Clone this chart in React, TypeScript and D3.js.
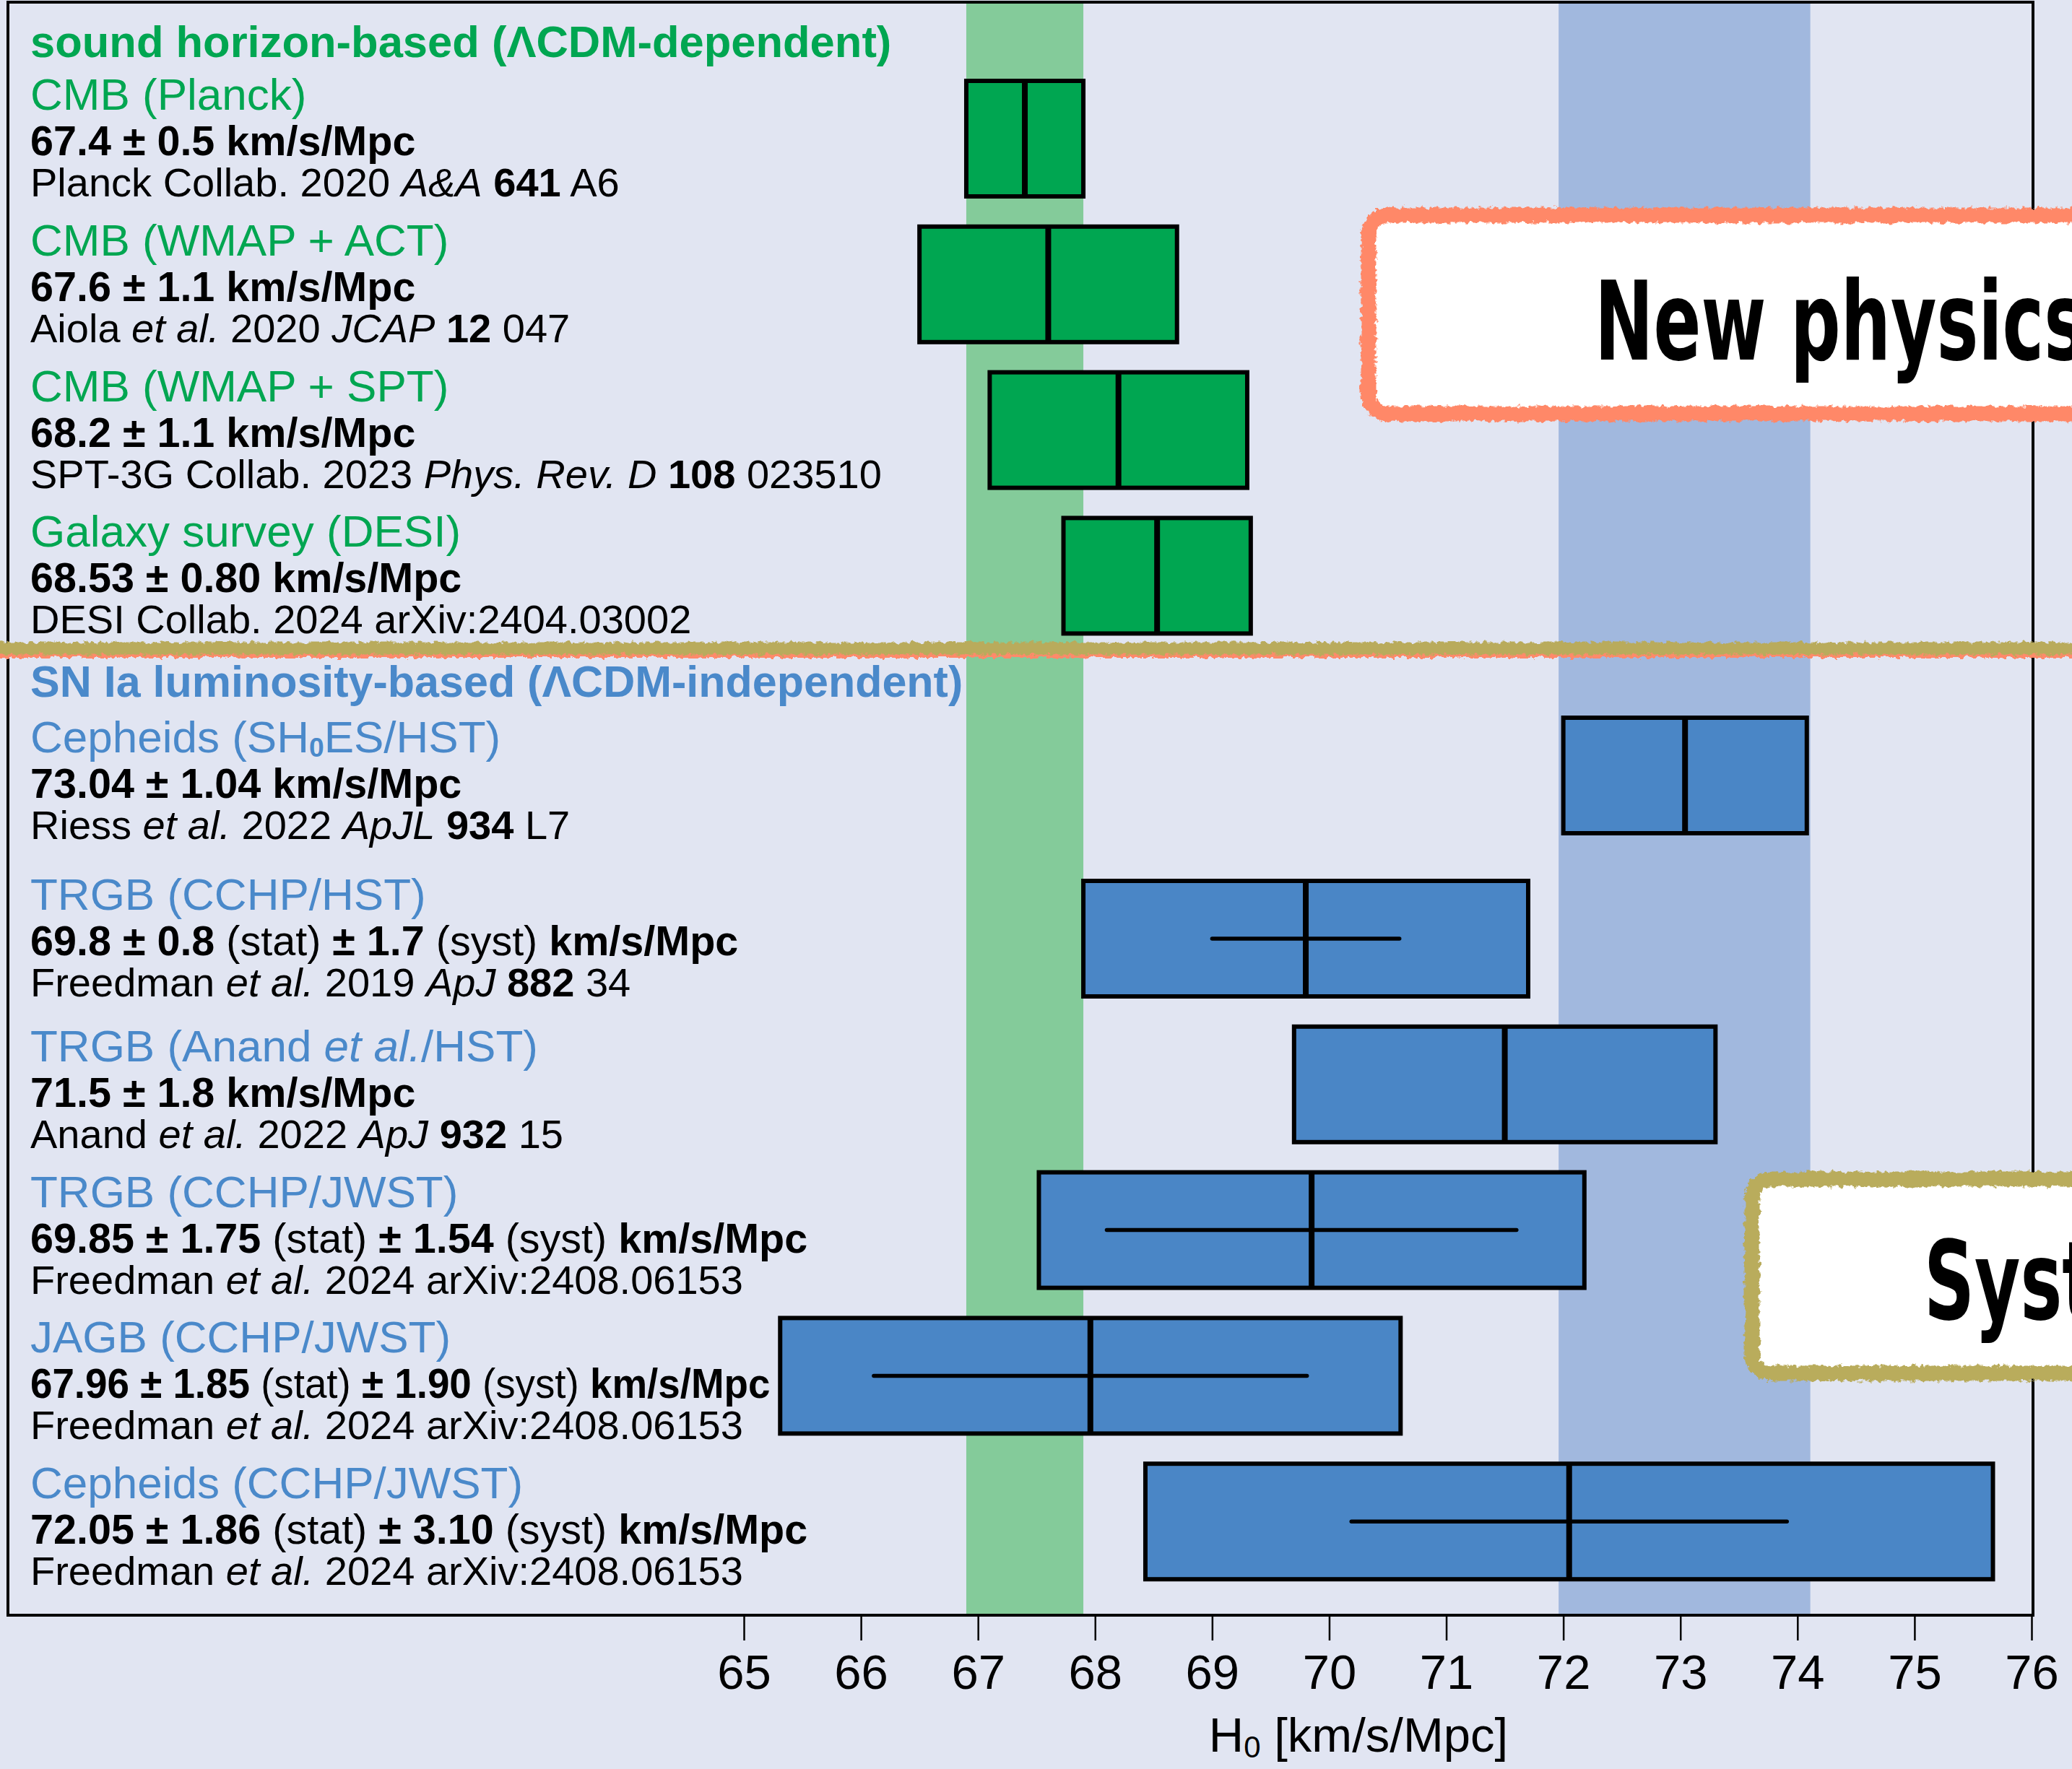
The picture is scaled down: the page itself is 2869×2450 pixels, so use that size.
import React, { useEffect, useRef } from 'react';
import * as d3 from 'd3';

// ---- data ----
const groupTitles = ['sound horizon-based (ΛCDM-dependent)', 'SN Ia luminosity-based (ΛCDM-independent)'];
const rowGroup = [0, 0, 0, 0, 1, 1, 1, 1, 1, 1];
const h0 = [67.4, 67.6, 68.2, 68.53, 73.04, 69.8, 71.5, 69.85, 67.96, 72.05];
const statErr = [0.5, 1.1, 1.1, 0.8, 1.04, 0.8, 1.8, 1.75, 1.85, 1.86];
const systErr = [null, null, null, null, null, 1.7, null, 1.54, 1.9, 3.1];
// half width of the drawn box (total error)
const boxHalf = [0.5, 1.1, 1.1, 0.8, 1.04, 1.9, 1.8, 2.33, 2.65, 3.62];
const decimals = [1, 1, 1, 2, 2, 1, 1, 2, 2, 2];

const titles = [
  [['CMB (Planck)']],
  [['CMB (WMAP + ACT)']],
  [['CMB (WMAP + SPT)']],
  [['Galaxy survey (DESI)']],
  [['Cepheids (SH'], ['0', 'sub'], ['ES/HST)']],
  [['TRGB (CCHP/HST)']],
  [['TRGB (Anand '], ['et al.', 'i'], ['/HST)']],
  [['TRGB (CCHP/JWST)']],
  [['JAGB (CCHP/JWST)']],
  [['Cepheids (CCHP/JWST)']],
];

const citations = [
  [['Planck Collab. 2020 '], ['A&A', 'i'], [' '], ['641', 'b'], [' A6']],
  [['Aiola '], ['et al.', 'i'], [' 2020 '], ['JCAP', 'i'], [' '], ['12', 'b'], [' 047']],
  [['SPT-3G Collab. 2023 '], ['Phys. Rev. D', 'i'], [' '], ['108', 'b'], [' 023510']],
  [['DESI Collab. 2024 arXiv:2404.03002']],
  [['Riess '], ['et al.', 'i'], [' 2022 '], ['ApJL', 'i'], [' '], ['934', 'b'], [' L7']],
  [['Freedman '], ['et al.', 'i'], [' 2019 '], ['ApJ', 'i'], [' '], ['882', 'b'], [' 34']],
  [['Anand '], ['et al.', 'i'], [' 2022 '], ['ApJ', 'i'], [' '], ['932', 'b'], [' 15']],
  [['Freedman '], ['et al.', 'i'], [' 2024 arXiv:2408.06153']],
  [['Freedman '], ['et al.', 'i'], [' 2024 arXiv:2408.06153']],
  [['Freedman '], ['et al.', 'i'], [' 2024 arXiv:2408.06153']],
];

const planckBand = [66.9, 67.9];
const shoesBand = [71.96, 74.11];
const xTicks = [65, 66, 67, 68, 69, 70, 71, 72, 73, 74, 75, 76];
const notes = ['New physics', 'Systematics'];

const FONT = "'Liberation Sans', Arial, sans-serif";
const GREEN = '#00a651';
const BLUE = '#4a86c6';
const BLUE_TXT = '#4a89ca';

const App = () => {
  const svgRef = useRef();

  useEffect(() => {
    const W = 2869, H = 2450;
    d3.select(svgRef.current).selectAll('*').remove();

    const svg = d3.select(svgRef.current)
      .attr('width', W)
      .attr('height', H)
      .style('font-family', FONT);

    // dimensions
    const frame = { left: 11, top: 3, right: 2815, bottom: 2237 };
    const xScale = d3.scaleLinear().domain([65, 76]).range([1030, 2813]);

    const rowStep = 201.8;
    const boxH = 160;
    const rowTop = i => (i < 4 ? 112 + i * rowStep : i === 4 ? 994 : 1220 + (i - 5) * rowStep);
    const textNudge = [0, 0, 0, 0, 8, 0, 8, 8, 8, 8];
    // the JAGB value line is squeezed in the original to clear its box
    const valueSqueeze = [1, 1, 1, 1, 1, 1, 1, 1, 0.952, 1];

    const defs = svg.append('defs');
    const f = defs.append('filter')
      .attr('id', 'rough')
      .attr('filterUnits', 'userSpaceOnUse')
      .attr('x', 0).attr('y', 0).attr('width', W).attr('height', H);
    f.append('feTurbulence')
      .attr('type', 'fractalNoise')
      .attr('baseFrequency', 0.15)
      .attr('numOctaves', 3)
      .attr('seed', 4)
      .attr('result', 'noise');
    f.append('feDisplacementMap')
      .attr('in', 'SourceGraphic')
      .attr('in2', 'noise')
      .attr('scale', 10)
      .attr('xChannelSelector', 'R')
      .attr('yChannelSelector', 'G');

    // background
    svg.append('rect').attr('width', W).attr('height', H).attr('fill', '#e1e5f2');

    // reference bands
    svg.append('rect')
      .attr('x', xScale(planckBand[0]))
      .attr('y', frame.top)
      .attr('width', xScale(planckBand[1]) - xScale(planckBand[0]))
      .attr('height', frame.bottom - frame.top)
      .attr('fill', '#84cb9a');
    svg.append('rect')
      .attr('x', xScale(shoesBand[0]))
      .attr('y', frame.top)
      .attr('width', xScale(shoesBand[1]) - xScale(shoesBand[0]))
      .attr('height', frame.bottom - frame.top)
      .attr('fill', '#a1b8de');

    // rich text helper
    const rich = (x, y, segs, size, fill) => {
      const t = svg.append('text')
        .attr('x', x).attr('y', y)
        .attr('font-size', size)
        .attr('fill', fill)
        .style('white-space', 'pre');
      let shift = 0;
      segs.forEach(([s, fmt = '']) => {
        const ts = t.append('tspan').text(s);
        if (fmt.includes('b')) ts.attr('font-weight', 'bold');
        if (fmt.includes('i')) ts.attr('font-style', 'italic');
        if (fmt === 'sub') {
          ts.attr('font-size', size * 0.6).attr('dy', 6);
          shift = 6;
        } else if (shift) {
          ts.attr('dy', -shift);
          shift = 0;
        }
      });
      return t;
    };

    // group headers
    rich(42, 79, [[groupTitles[0], 'b']], 61.5, GREEN);
    rich(42, 965, [[groupTitles[1], 'b']], 61, BLUE_TXT);

    // rows
    h0.forEach((v, i) => {
      const top = rowTop(i);
      const col = rowGroup[i] === 0 ? GREEN : BLUE;
      const txtCol = rowGroup[i] === 0 ? GREEN : BLUE_TXT;
      const ty = top + textNudge[i];
      const fmt = d3.format(`.${decimals[i]}f`);

      rich(42, ty + 40, titles[i], 62, txtCol);

      const valSegs = systErr[i] == null
        ? [[`${fmt(v)} ± ${fmt(statErr[i])} km/s/Mpc`, 'b']]
        : [[`${fmt(v)} ± ${fmt(statErr[i])}`, 'b'], [' (stat) '], [`± ${fmt(systErr[i])}`, 'b'], [' (syst) '], ['km/s/Mpc', 'b']];
      rich(42, ty + 103, valSegs, 57.5, '#000')
        .attr('transform', `translate(42,0) scale(${valueSqueeze[i]},1) translate(-42,0)`);
      rich(42, ty + 160, citations[i], 56, '#000');

      // box = total error
      svg.append('rect')
        .attr('x', xScale(v - boxHalf[i]))
        .attr('y', top)
        .attr('width', xScale(v + boxHalf[i]) - xScale(v - boxHalf[i]))
        .attr('height', boxH)
        .attr('fill', col)
        .attr('stroke', '#000')
        .attr('stroke-width', 6);

      // statistical error bar
      if (systErr[i] != null) {
        svg.append('line')
          .attr('x1', xScale(v - statErr[i]))
          .attr('x2', xScale(v + statErr[i]))
          .attr('y1', top + boxH / 2)
          .attr('y2', top + boxH / 2)
          .attr('stroke', '#000')
          .attr('stroke-width', 5.5)
          .attr('stroke-linecap', 'round');
      }

      // central value
      svg.append('line')
        .attr('x1', xScale(v))
        .attr('x2', xScale(v))
        .attr('y1', top)
        .attr('y2', top + boxH)
        .attr('stroke', '#000')
        .attr('stroke-width', 8);
    });

    // frame
    svg.append('rect')
      .attr('x', frame.left)
      .attr('y', frame.top)
      .attr('width', frame.right - frame.left)
      .attr('height', frame.bottom - frame.top)
      .attr('fill', 'none')
      .attr('stroke', '#000')
      .attr('stroke-width', 4);

    // x axis
    const axis = svg.append('g')
      .attr('transform', `translate(0,${frame.bottom})`)
      .call(d3.axisBottom(xScale).tickValues(xTicks).tickSize(35).tickSizeOuter(0).tickPadding(19));
    axis.select('.domain').remove();
    axis.selectAll('line').attr('stroke', '#000').attr('stroke-width', 2.5);
    axis.selectAll('text')
      .attr('font-size', 67)
      .attr('font-family', FONT)
      .attr('fill', '#000');

    const xt = svg.append('text')
      .attr('x', xScale(70.25))
      .attr('y', 2426)
      .attr('text-anchor', 'middle')
      .attr('font-size', 67)
      .attr('fill', '#000');
    xt.append('tspan').text('H');
    xt.append('tspan').text('0').attr('font-size', 42).attr('dy', 8);
    xt.append('tspan').text(' [km/s/Mpc]').attr('dy', -8);

    // divider between the two groups
    const div = svg.append('g').attr('filter', 'url(#rough)');
    div.append('line')
      .attr('x1', -20).attr('x2', W + 20)
      .attr('y1', 904).attr('y2', 904)
      .attr('stroke', '#ff8a6a').attr('stroke-width', 14);
    div.append('line')
      .attr('x1', -20).attr('x2', W + 20)
      .attr('y1', 898).attr('y2', 898)
      .attr('stroke', '#b9ab5b').attr('stroke-width', 17);

    // annotation boxes
    const note = (x, y, h, color, label, tx, ty) => {
      svg.append('rect')
        .attr('x', x).attr('y', y)
        .attr('width', W - x + 200).attr('height', h)
        .attr('rx', 26)
        .attr('fill', '#fff');
      svg.append('rect')
        .attr('x', x).attr('y', y)
        .attr('width', W - x + 200).attr('height', h)
        .attr('rx', 26)
        .attr('fill', 'none')
        .attr('stroke', color)
        .attr('stroke-width', 21)
        .attr('filter', 'url(#rough)');
      svg.append('text')
        .attr('transform', `translate(${tx},${ty}) scale(0.64,1)`)
        .attr('font-family', "'DejaVu Sans', sans-serif")
        .attr('font-weight', 'bold')
        .attr('font-size', 152)
        .attr('fill', '#000')
        .text(label);
    };
    note(1895, 298, 275, '#ff8868', notes[0], 2208, 498);
    note(2426, 1633, 269, '#b9ac5b', notes[1], 2664, 1827);
  }, []);

  return <svg ref={svgRef} style={{ position: 'absolute', left: 0, top: 0 }}></svg>;
};

export default App;
